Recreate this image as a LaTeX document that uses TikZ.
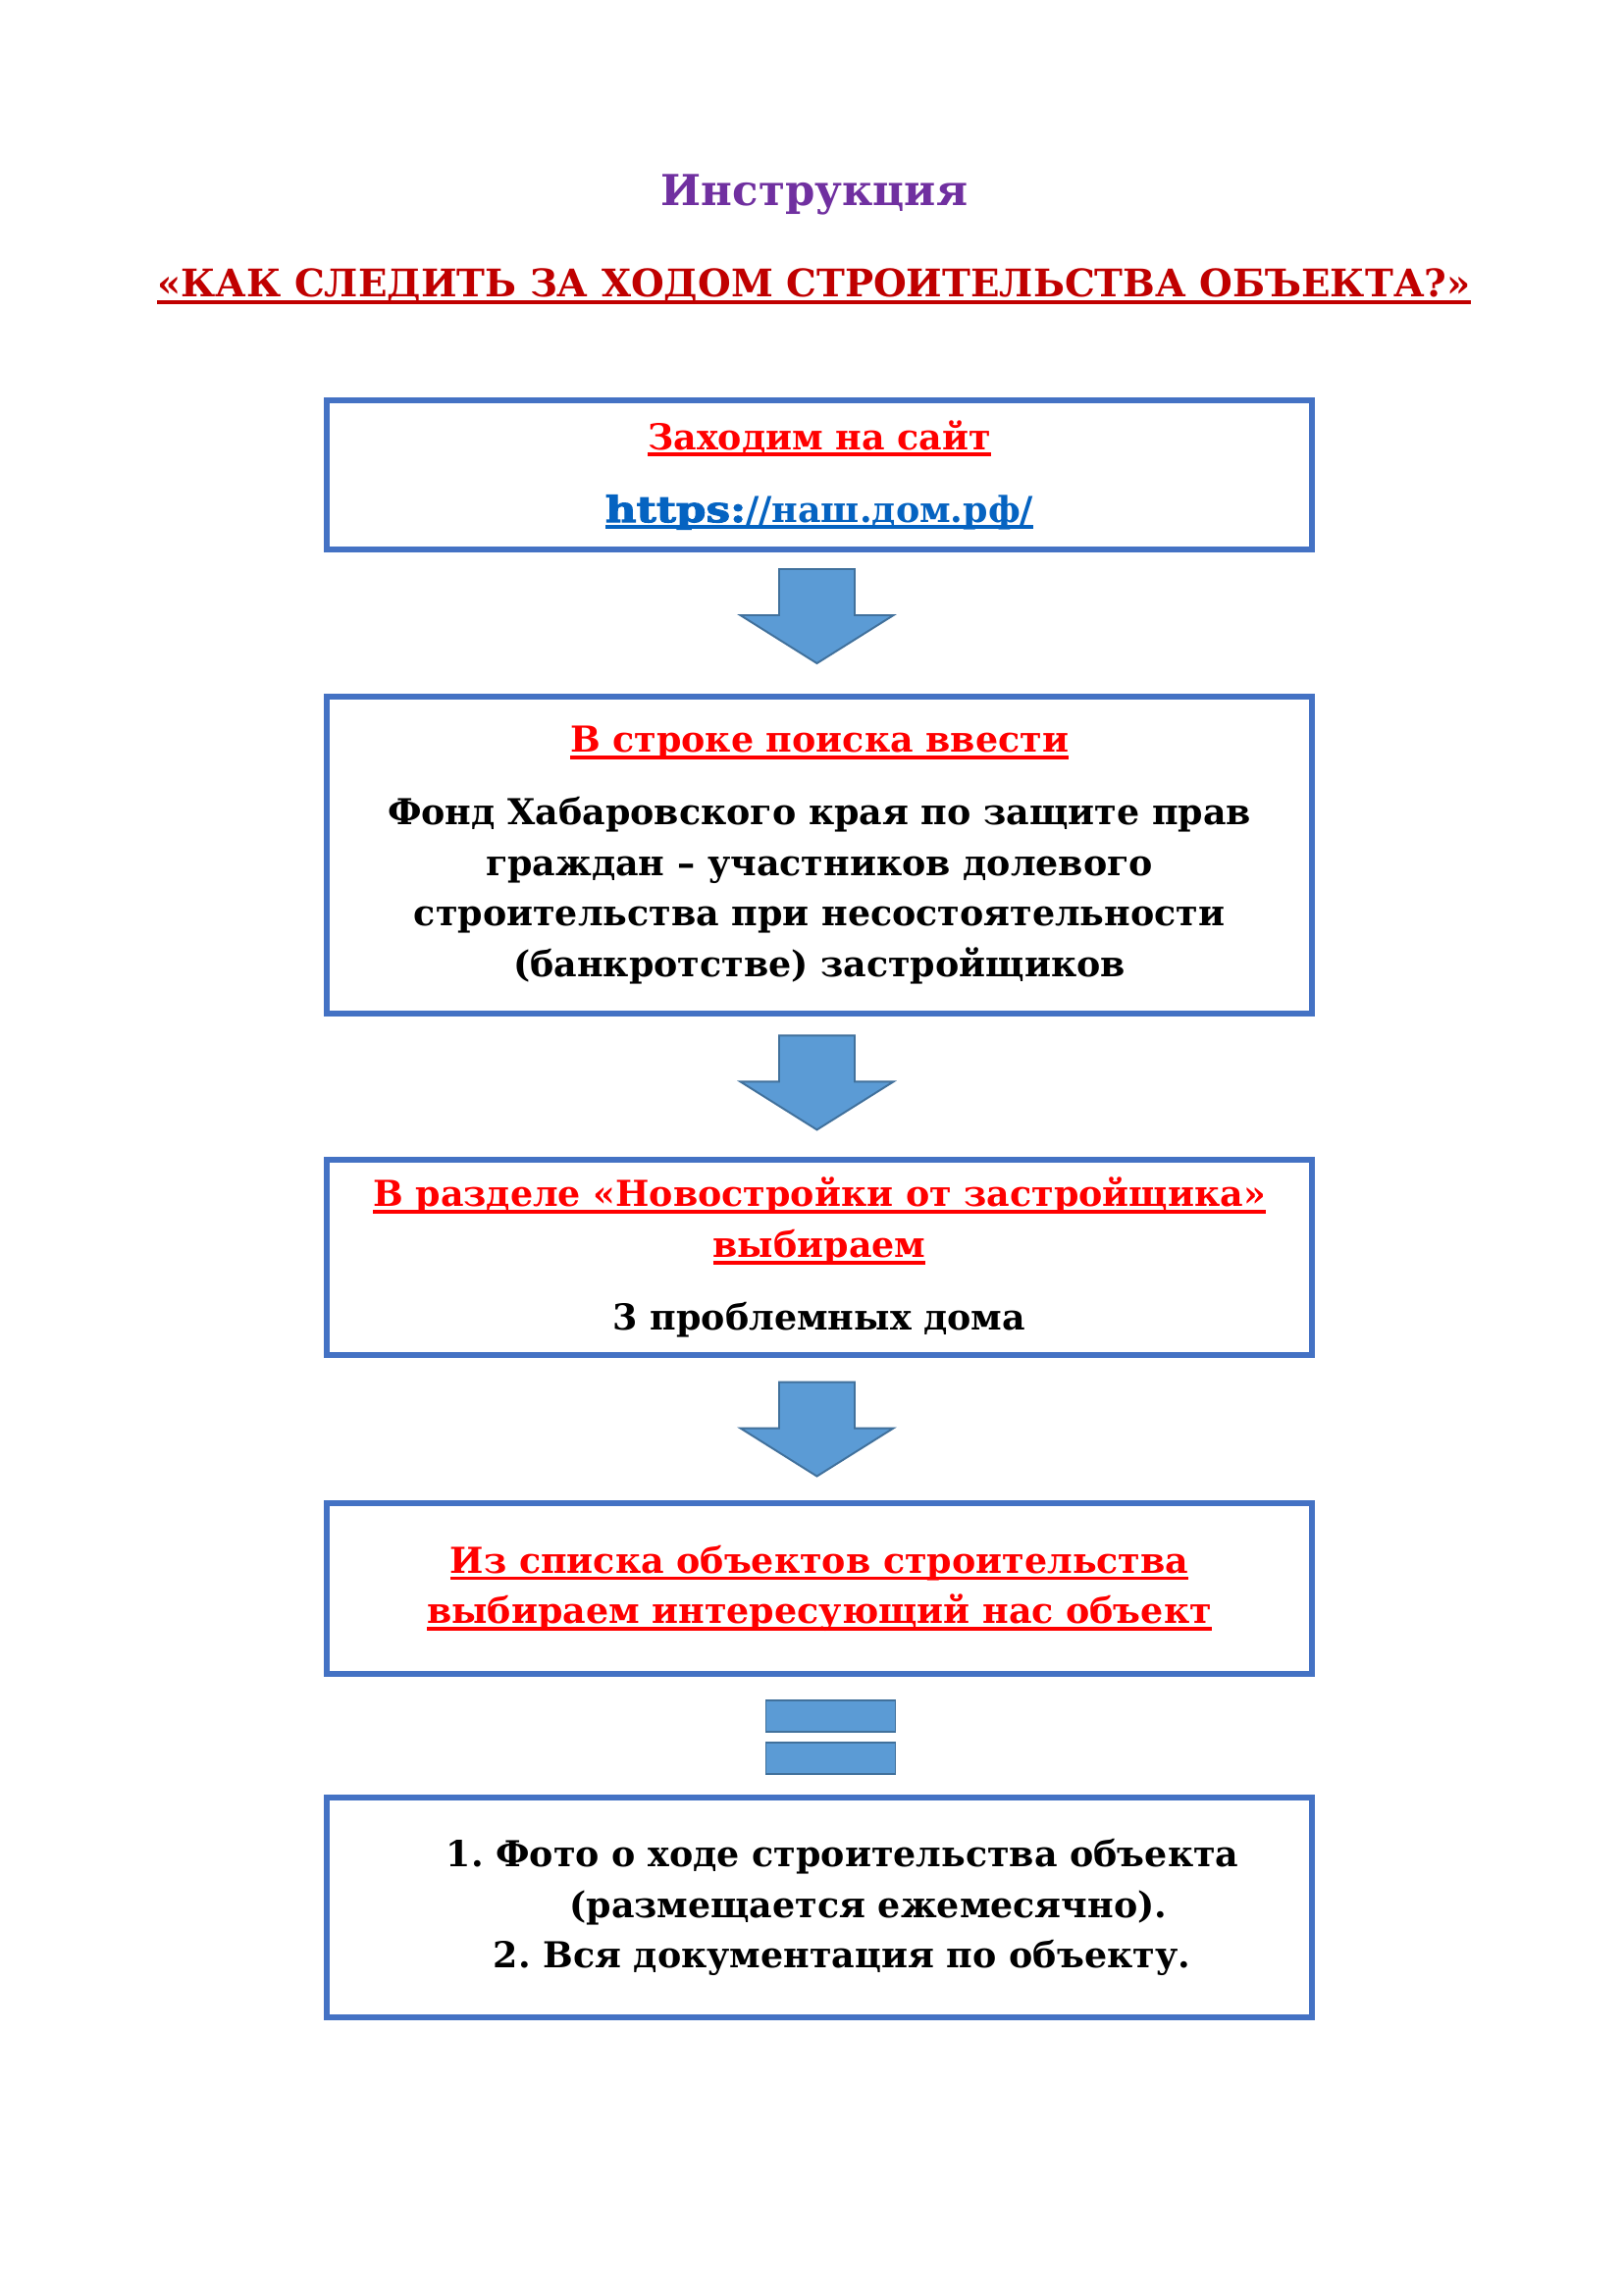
\documentclass[tikz,border=0pt]{standalone}
\usepackage{fontspec}
\setmainfont{DejaVu Serif}
\newfontfamily\heavyfont{DejaVu Serif}[BoldFeatures={FakeBold=3,FakeStretch=1.2}]
\usetikzlibrary{calc}
\definecolor{boxblue}{HTML}{4472C4}
\definecolor{arrowfill}{HTML}{5B9BD5}
\definecolor{arrowline}{HTML}{41719C}
\definecolor{headred}{HTML}{FF0000}
\definecolor{titlered}{HTML}{C00000}
\definecolor{titlepurple}{HTML}{7030A0}
\definecolor{linkblue}{HTML}{0563C1}
\newcommand{\ulx}[1]{\leavevmode\setbox0=\hbox{#1}\rlap{\rule[-2.6pt]{\wd0}{1.4pt}}\box0}
\newcommand{\hd}[1]{{\color{headred}\ulx{#1}}}
\frenchspacing

\begin{document}
\begin{tikzpicture}[x=0.127mm,y=-0.127mm,
  stepbox/.style={draw=boxblue,line width=2.2pt,fill=white,minimum width=127.6mm,align=center,
    font=\bfseries\fontsize{13.15}{18.7}\selectfont},
  arrowbody/.style={fill=arrowfill,draw=arrowline,line width=0.7pt,line join=miter},
  downarr/.pic={\draw[arrowbody] (-38.5,-48) -- (38.5,-48) -- (38.5,-1) -- (78,-1) -- (0,48)
    -- (-78,-1) -- (-38.5,-1) -- cycle;},
  equalsign/.pic={\draw[arrowbody] (-66,-37.5) rectangle (66,-5.5);
    \draw[arrowbody] (-66,5.5) rectangle (66,37.5);}]
  \useasboundingbox[fill=white] (0,0) rectangle (1654,2339);

  \node[anchor=base,text=titlepurple,font=\bfseries\fontsize{15.7}{19}\selectfont] (title) at (830,210) {Инструкция};
  \node[anchor=base,text=titlered,font=\bfseries\fontsize{14}{19}\selectfont] (subtitle) at (829.5,303)
    {\ulx{«КАК СЛЕДИТЬ ЗА ХОДОМ СТРОИТЕЛЬСТВА ОБЪЕКТА?»}};

  \node[stepbox,minimum height=19.3mm] (site) at (835,484)
    {\hd{Заходим на сайт}\\[8pt]
     {\color{linkblue}\ulx{{\heavyfont\bfseries https:}//наш.дом.рф/}}};
  \node[stepbox,minimum height=41mm] (search) at (835,871.5)
    {\hd{В строке поиска ввести}\\[8pt]
     Фонд Хабаровского края по защите прав\\
     граждан – участников долевого\\
     строительства при несостоятельности\\
     (банкротстве) застройщиков};
  \node[stepbox,minimum height=25.3mm] (section) at (835,1281.5)
    {\hd{В разделе «Новостройки от застройщика»}\\
     \hd{выбираем}\\[8pt]
     3 проблемных дома};
  \node[stepbox,minimum height=22.1mm] (objlist) at (835,1619)
    {\hd{Из списка объектов строительства}\\
     \hd{выбираем интересующий нас объект}};
  \node[stepbox,minimum height=28.4mm] (result) at (835,1944)
    {\hspace*{17pt}1. Фото о ходе строительства объекта\\
     \hspace*{36pt}(размещается ежемесячно).\\
     \hspace*{16.5pt}2. Вся документация по объекту.};

  \pic at ($(site.south)!.5!(search.north)+(-2.5,-7)$) {downarr};
  \pic at ($(search.south)!.5!(section.north)+(-2.5,-4)$) {downarr};
  \pic at ($(section.south)!.5!(objlist.north)+(-2.5,0)$) {downarr};
  \pic at ($(objlist.south)!.5!(result.north)+(11.5,1.5)$) {equalsign};
\end{tikzpicture}
\end{document}
